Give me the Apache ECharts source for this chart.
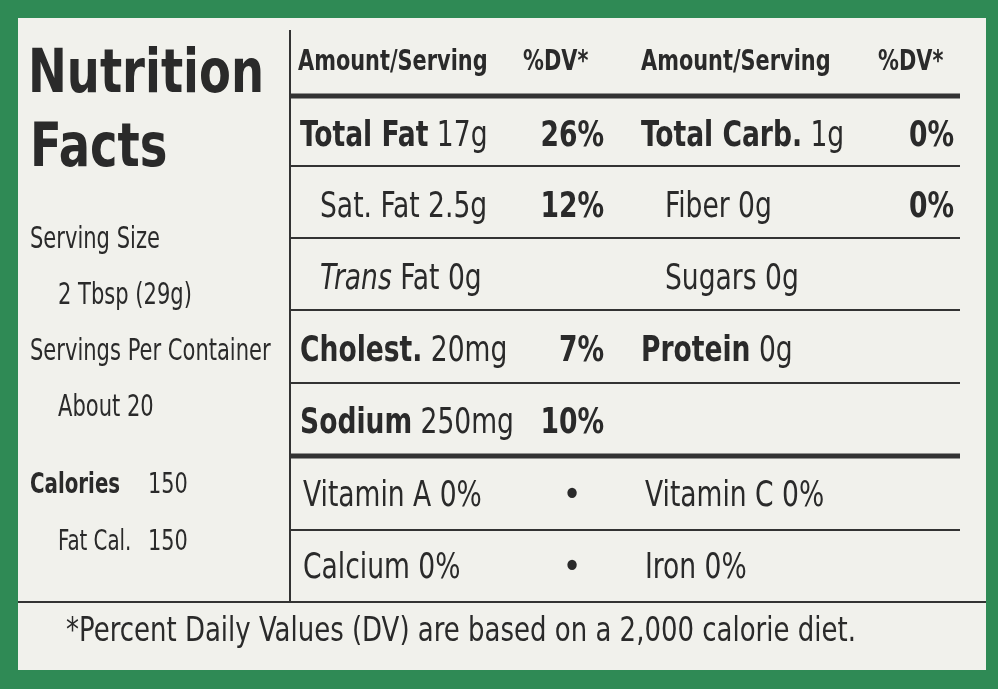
<!DOCTYPE html>
<html>
<head>
<meta charset="utf-8">
<script src="https://cdn.jsdelivr.net/npm/echarts@6/dist/echarts.min.js"></script>
<style>
  html, body { margin: 0; padding: 0; background: #2f8a55; }
  #main { width: 998px; height: 689px; }
</style>
</head>
<body>
<div id="main"></div>
<script>
// label content
const titleLines = ['Nutrition', 'Facts'];
const servingLines = [
  ['Serving Size', 0], ['2 Tbsp (29g)', 1], ['Servings Per Container', 0], ['About 20', 1]
];
const calorieLines = [['Calories', '150', 0, true], ['Fat Cal.', '150', 1, false]];
const headers = ['Amount/Serving', '%DV*', 'Amount/Serving', '%DV*'];
// [name, amount, dv, bold, indent, italicName]
const leftRows = [
  ['Total Fat', '17g', '26%', true, false, false],
  ['Sat. Fat', '2.5g', '12%', false, true, false],
  ['Trans', 'Fat 0g', '', false, true, true],
  ['Cholest.', '20mg', '7%', true, false, false],
  ['Sodium', '250mg', '10%', true, false, false]
];
const rightRows = [
  ['Total Carb.', '1g', '0%', true, false],
  ['Fiber', '0g', '0%', false, true],
  ['Sugars', '0g', '', false, true],
  ['Protein', '0g', '', true, false],
  ['', '', '', false, false]
];
const vitaminRows = [['Vitamin A 0%', 'Vitamin C 0%'], ['Calcium 0%', 'Iron 0%']];
const footnote = '*Percent Daily Values (DV) are based on a 2,000 calorie diet.';

const FONT = '"DejaVu Sans Condensed", "Liberation Sans Narrow", sans-serif';
const INK = '#2a2a2a';

var chart = echarts.init(document.getElementById('main'));
var g = [];

function txt(x, y, text, size, opts) {
  opts = opts || {};
  g.push({
    type: 'text', x: x, y: y, scaleX: opts.sx || 0.82,
    style: Object.assign({
      text: text, fill: INK, fontFamily: FONT, fontSize: size,
      textVerticalAlign: 'middle', textAlign: opts.align || 'left',
      fontWeight: opts.bold ? 'bold' : 'normal',
      fontStyle: opts.italic ? 'italic' : 'normal'
    }, opts.rich ? { rich: opts.rich } : {})
  });
}
function line(x1, y1, x2, y2, w) {
  g.push({ type: 'line', shape: { x1: x1, y1: y1, x2: x2, y2: y2 }, style: { stroke: '#333', lineWidth: w } });
}

// panel
g.push({ type: 'rect', shape: { x: 18, y: 18, width: 968, height: 652 }, style: { fill: '#f1f1ec' } });

txt(28, 76, titleLines[0], 60, { bold: true, sx: 0.86 });
txt(30, 150, titleLines[1], 60, { bold: true, sx: 0.86 });
servingLines.forEach((s, i) => txt(30 + s[1] * 28, 240 + i * 56, s[0], 30, { sx: 0.78 }));
calorieLines.forEach((c, i) => {
  txt(30 + c[2] * 28, 485 + i * 57, c[0], 29, { bold: c[3], sx: 0.76 });
  txt(148, 485 + i * 57, c[1], 29, { sx: 0.8 });
});

// table lines
line(290, 30, 290, 602, 2);
line(290, 96, 960, 96, 5);
[166, 238, 310, 383].forEach(y => line(290, y, 960, y, 2));
line(290, 456, 960, 456, 5);
line(290, 530, 960, 530, 2);
line(18, 602, 986, 602, 2);

// headers
const hx = [298, 523, 641, 878];
headers.forEach((h, i) => txt(hx[i], 62, h, 29, { bold: true, sx: 0.8 }));

const rowY = [137, 208, 280, 352, 424];
const richB = { b: { fontWeight: 'bold', fontFamily: FONT, fontSize: 36, fill: INK },
                i: { fontStyle: 'italic', fontFamily: FONT, fontSize: 36, fill: INK } };
leftRows.forEach((r, i) => {
  const name = r[5] ? '{i|' + r[0] + '} ' : (r[3] ? '{b|' + r[0] + '} ' : r[0] + ' ');
  txt(r[4] ? 320 : 300, rowY[i], name + r[1], 36, { rich: richB });
  if (r[2]) txt(604, rowY[i], r[2], 36, { bold: true, align: 'right' });
});
rightRows.forEach((r, i) => {
  if (!r[0]) return;
  const name = r[3] ? '{b|' + r[0] + '} ' : r[0] + ' ';
  txt(r[4] ? 665 : 641, rowY[i], name + r[1], 36, { rich: richB });
  if (r[2]) txt(954, rowY[i], r[2], 36, { bold: true, align: 'right' });
});

vitaminRows.forEach((v, i) => {
  const y = 497 + i * 72;
  txt(303, y, v[0], 36);
  txt(572, y, '\u2022', 36, { align: 'center', sx: 1 });
  txt(645, y, v[1], 36);
});
txt(66, 632, footnote, 34, { sx: 0.85 });

chart.setOption({ animation: false, graphic: g });
</script>
</body>
</html>
